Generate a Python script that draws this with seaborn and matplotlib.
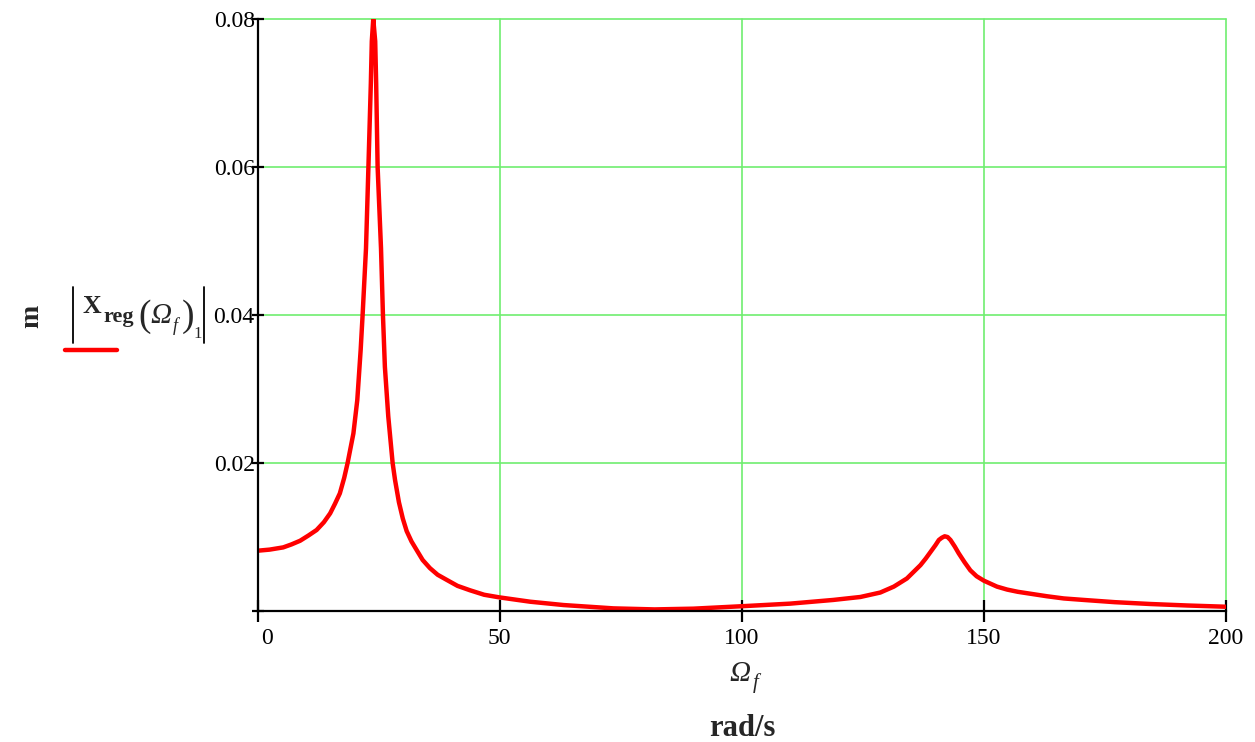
import numpy as np
import pandas as pd
import matplotlib
matplotlib.use('Agg')
import matplotlib.pyplot as plt
import matplotlib.transforms as mtrans
import seaborn as sns

# values (frequency in rad/s, amplitude in m)
omega = [0, 2.5, 5.3, 7, 8.8, 10.5, 12.2, 13.7, 15.0, 16.0, 17.0, 17.9, 18.6,
         19.2, 19.8, 20.6, 21.3, 21.7, 22.4, 22.9, 23.4, 23.6, 23.9, 24.3,
         24.5, 24.8, 25.5, 25.9, 26.3, 27.0, 27.9, 28.4, 29.2, 30.0, 30.8,
         31.8, 32.9, 34.1, 35.6, 37.2, 39.1, 41.3, 43.9, 46.8, 49.9, 56.3,
         63.2, 73.5, 82, 90, 100, 110, 118.9, 124.5, 128.6, 131.4, 134.1,
         136.9, 138.0, 139.0, 140.0, 140.7, 141.3, 141.9, 142.5, 143.1, 144.0,
         144.8, 146.0, 147.2, 148.5, 150, 152.7, 154.8, 157, 160, 163, 166.5,
         170.6, 177, 184.4, 192, 200]
x_abs = [0.00815, 0.0083, 0.0086, 0.0090, 0.0095, 0.0102, 0.01095, 0.0120,
         0.0132, 0.0145, 0.0159, 0.0180, 0.0200, 0.0220, 0.0240, 0.0285,
         0.0353, 0.040, 0.049, 0.060, 0.0713, 0.077, 0.080, 0.077, 0.0713,
         0.060, 0.049, 0.040, 0.0330, 0.0263, 0.0200, 0.0177, 0.0147, 0.0125,
         0.0108, 0.0094, 0.0082, 0.0069, 0.0058, 0.0049, 0.0042, 0.0034,
         0.0028, 0.0022, 0.00185, 0.00126, 0.00081, 0.00036, 0.00022,
         0.00032, 0.00065, 0.0010, 0.0015, 0.0019, 0.0025, 0.0033, 0.0044,
         0.0062, 0.0071, 0.0080, 0.0089, 0.0096, 0.0099, 0.0101, 0.0100,
         0.0096, 0.0087, 0.0078, 0.0066, 0.0055, 0.0047, 0.0041, 0.0033,
         0.0029, 0.0026, 0.0023, 0.0020, 0.0017, 0.0015, 0.0012, 0.00095,
         0.00075, 0.00058]
xticks = [0, 50, 100, 150, 200]
yticks = [0, 0.02, 0.04, 0.06, 0.08]
ytick_labels = ['', '0.02', '0.04', '0.06', '0.08']

df = pd.DataFrame({'omega': omega, 'x': x_abs})

sns.set_style('white')
plt.rcParams['font.family'] = ['Liberation Serif', 'DejaVu Serif']

W, H = 1255, 742
fig = plt.figure(figsize=(W / 100, H / 100), dpi=100)
ax = fig.add_axes([0.2052, 0.1765, 0.7717, 0.7979])

sns.lineplot(data=df, x='omega', y='x', color='#ff0000', linewidth=3.2, ax=ax)

ax.set_xlim(0, 200)
ax.set_ylim(0, 0.08)
ax.set_xticks(xticks)
ax.set_xticklabels([str(t) for t in xticks])
ax.set_yticks(yticks)
ax.set_yticklabels(ytick_labels)
ax.grid(True, color='#70ee70', linewidth=1.2)
ax.set_axisbelow(True)
for gl in ax.get_xgridlines() + ax.get_ygridlines():
    gl.set_clip_on(False)
for s in ['top', 'right']:
    ax.spines[s].set_visible(False)
for s in ['left', 'bottom']:
    ax.spines[s].set_color('black')
    ax.spines[s].set_linewidth(1.6)
ax.tick_params(axis='x', bottom=True, direction='inout', length=16, width=1.6,
               pad=4, labelsize=17, colors='black')
ax.tick_params(axis='y', left=True, direction='inout', length=8, width=1.6,
               pad=-2, labelsize=17, colors='black')
ax.set_xlabel('')
ax.set_ylabel('')

# first x label sits a little right of its tick
lab0 = ax.get_xticklabels()[0]
lab0.set_transform(lab0.get_transform() +
                   mtrans.ScaledTranslation(0.09, 0, fig.dpi_scale_trans))


def put(px, py, s, size, **kw):
    # place text by pixel position of its left edge / baseline
    fig.text(px / W, 1 - py / H, s, fontsize=size, ha='left', va='baseline', **kw)


# x axis label: Omega_f and unit
put(729, 681, 'Ω', 21, fontstyle='italic')
put(753, 688, 'f', 15, fontstyle='italic')
fig.text(742 / W, 1 - 728 / H, 'rad/s', ha='center', va='center',
         fontsize=22, fontweight='bold')

# y axis unit and trace label |X_reg(Omega_f)_1|
fig.text(32 / W, 1 - 316 / H, 'm', ha='center', va='center',
         fontsize=20, fontweight='bold', rotation=90)
put(83, 313, 'X', 18.5, fontweight='bold')
put(103, 322, 'reg', 16, fontweight='bold')
put(138, 326, '(', 27)
put(150, 323, 'Ω', 21, fontstyle='italic')
put(173, 331, 'f', 13, fontstyle='italic')
put(182, 326, ')', 27)
put(193, 338, '1', 12)
for bx in [72.7, 203.5]:
    fig.add_artist(plt.Line2D([bx / W, bx / W], [1 - 287 / H, 1 - 343 / H],
                              color='black', linewidth=1.3,
                              transform=fig.transFigure))
fig.add_artist(plt.Line2D([65 / W, 117 / W], [1 - 350 / H, 1 - 350 / H],
                          color='#ff0000', linewidth=3.2,
                          solid_capstyle='round', transform=fig.transFigure))

fig.savefig('out.png', dpi=100)
